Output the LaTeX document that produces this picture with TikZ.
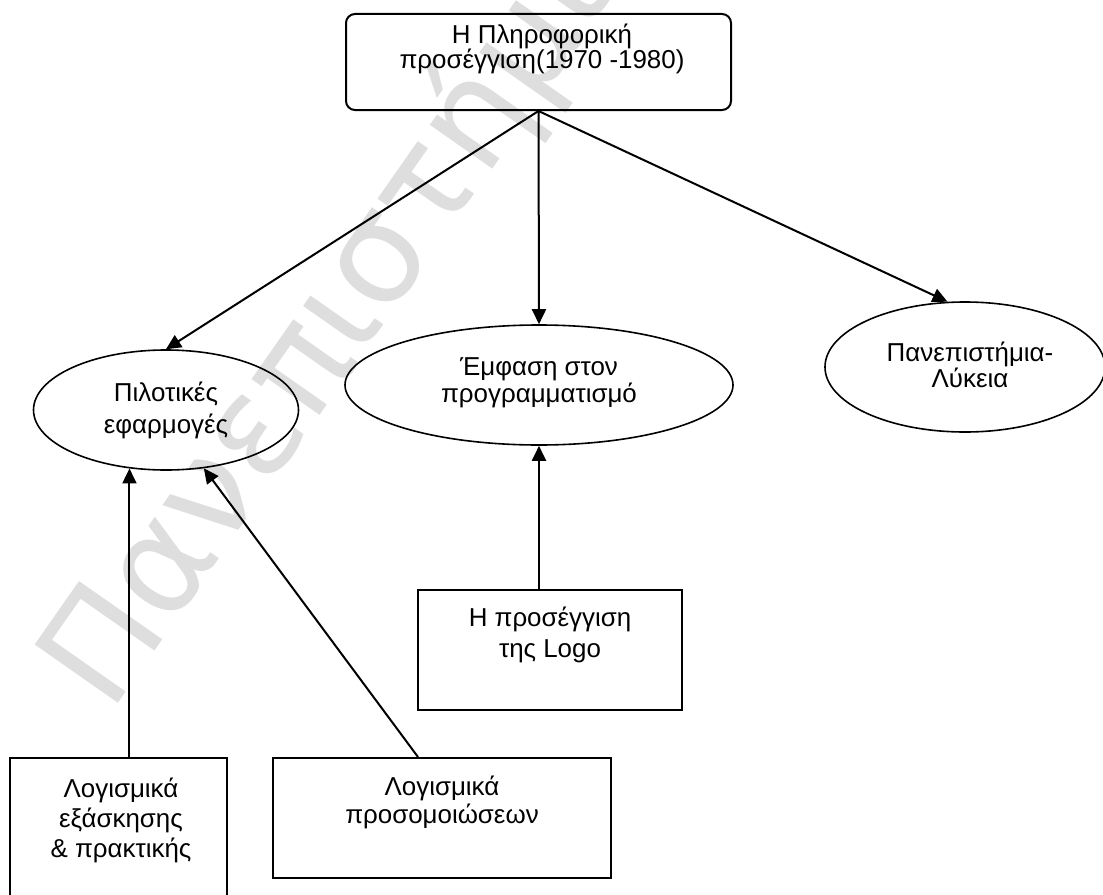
\documentclass[tikz,border=0pt]{standalone}
\usepackage{fontspec}
\setmainfont{Liberation Sans}
\newfontfamily\wmfont{DejaVu Sans}
\usetikzlibrary{shapes.geometric,arrows.meta,calc}
% fixed baseline distance regardless of accents and descenders
\newcommand\tightlines{\lineskiplimit=-100pt\relax}

\begin{document}
\begin{tikzpicture}[x=1bp,y=-1bp,
  lbl/.style={inner sep=0pt, align=center, anchor=base,
    font=\fontsize{26}{#1}\selectfont\tightlines},
  ovalnode/.style={ellipse, draw, line width=1.6bp, inner sep=0pt},
  boxnode/.style={rectangle, draw, line width=2bp, inner sep=0pt},
  arr/.style={line width=2bp, -{Triangle[length=15bp,width=14bp]}},
  wmtext/.style={text=black!13, inner sep=0pt, font=\wmfont\fontsize{140}{140}\selectfont, anchor=base west, rotate=55}
]
% canvas
\useasboundingbox (0,0) rectangle (1103,895);
\clip (0,0) rectangle (1103,895);
\fill[white] (0,0) rectangle (1103,895);

% background watermark
\node[wmtext] (wm) at (110,715) {Πανεπιστήμιο};

% top box (text anchored at the baseline of its last line)
\node[boxnode, rounded corners=9bp, minimum width=385bp, minimum height=96bp] (top) at (538.5,62) {};
\node[lbl=25] (top-t) at (542,68) {Η Πληροφορική\\προσέγγιση(1970 -1980)};

% second level ellipses
\node[ovalnode, minimum width=265bp, minimum height=120bp] (pil) at (166,410) {};
\node[lbl=32] (pil-t) at (166,433) {Πιλοτικές\\εφαρμογές};

\node[ovalnode, minimum width=388bp, minimum height=120bp] (emf) at (539,385) {};
\node[lbl=27] (emf-t) at (539,402) {Έμφαση στον\\προγραμματισμό};

\node[ovalnode, minimum width=280bp, minimum height=130bp] (pan) at (965,367) {};
\node[lbl=26] (pan-t) at (970,387) {Πανεπιστήμια-\\Λύκεια};

% lower boxes
\node[boxnode, minimum width=264bp, minimum height=120bp] (logo) at (550,650) {};
\node[lbl=31] (logo-t) at (550,657) {Η προσέγγιση\\της Logo};

\node[boxnode, minimum width=217bp, minimum height=150bp] (drill) at (118.5,833) {};
\node[lbl=30] (drill-t) at (121,857) {Λογισμικά\\εξάσκησης\\\& πρακτικής};

\node[boxnode, minimum width=338bp, minimum height=120bp] (sim) at (442,818) {};
\node[lbl=28] (sim-t) at (442,823) {Λογισμικά\\προσομοιώσεων};

% connectors
\draw[arr] (top.south) -- (pil.north);
\draw[arr] (top.south) -- (emf.north);
\draw[arr] (top.south) -- (pan.105);
\draw[arr] (pil.238 |- drill.north) -- (pil.238);
\draw[arr] ($(sim.north)+(-24,0)$) -- (pil.303);
\draw[arr] (emf.south |- logo.north) -- (emf.south);
\end{tikzpicture}
\end{document}
